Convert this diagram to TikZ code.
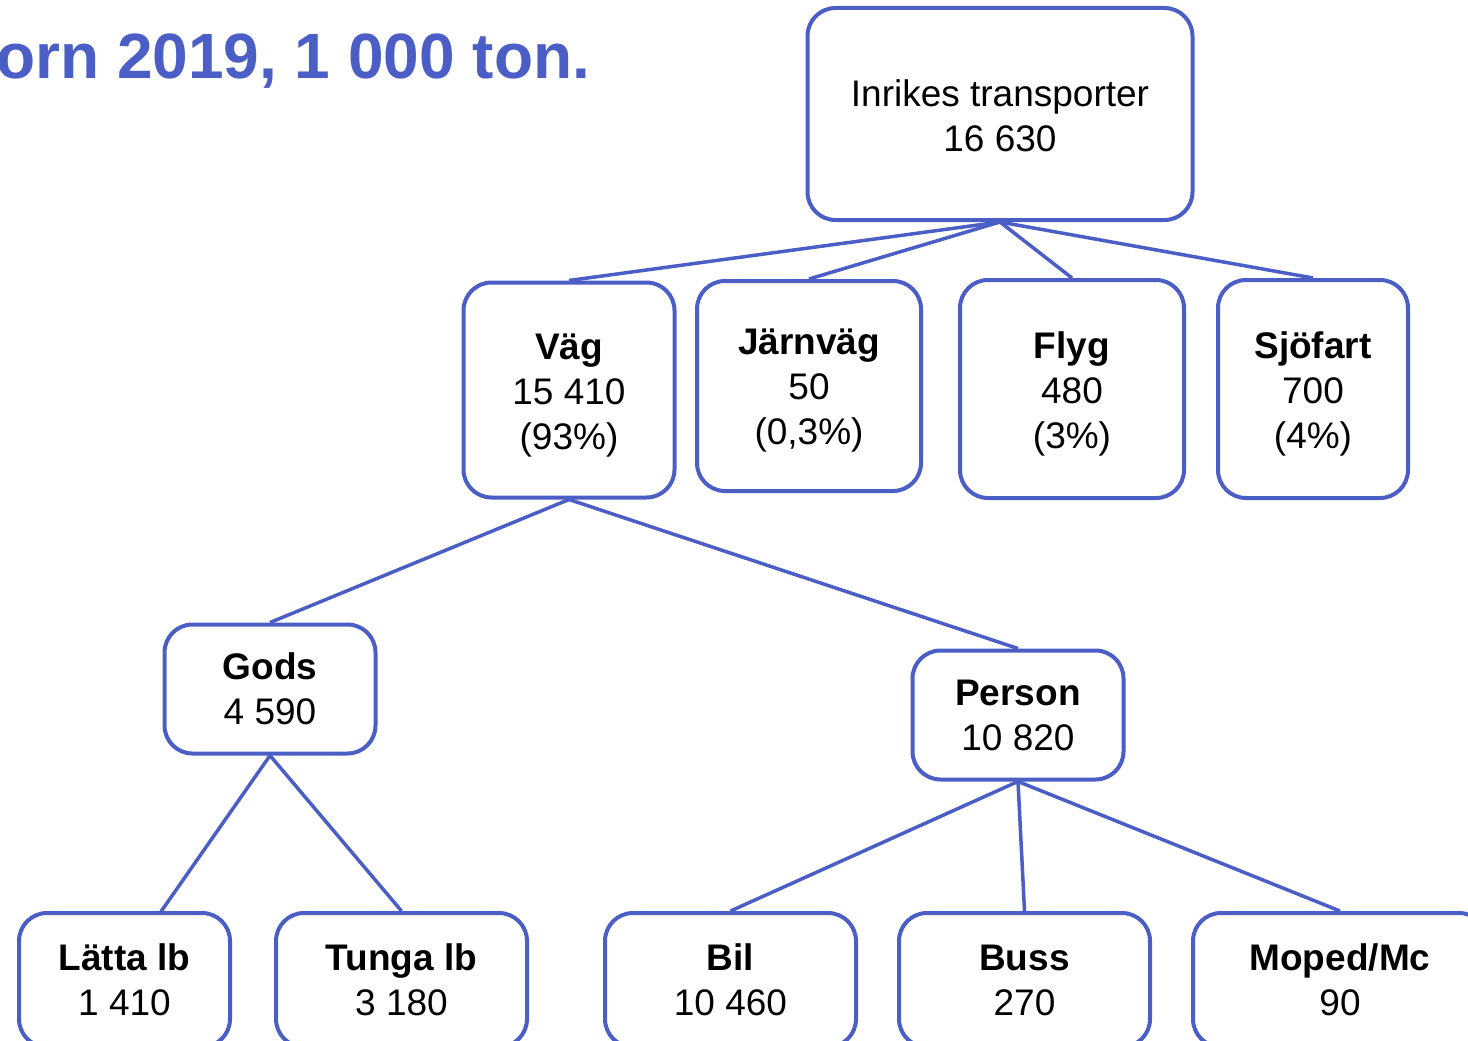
\documentclass[tikz,border=0pt]{standalone}
\usepackage{fontspec}
\setmainfont{Liberation Sans}
\definecolor{myblue}{HTML}{4A5EC6}
\begin{document}
\begin{tikzpicture}[x=1pt,y=-1pt,
  box/.style={draw=myblue, line width=4pt, rounded corners=28pt, fill=white, align=center,
    font=\fontsize{37}{45}\selectfont, inner sep=0pt, text=black},
  txt/.style={align=center, font=\fontsize{37}{45}\selectfont, inner sep=0pt, text=black},
  edge/.style={draw=myblue, line width=3.5pt}]
\useasboundingbox (0,0) rectangle (1468,1041);
\clip (0,0) rectangle (1468,1041);
\fill[white] (0,0) rectangle (1468,1041);
\node[anchor=base west, text=myblue, font=\fontsize{64}{72}\selectfont\bfseries, inner sep=0pt] (title) at (-4,79) {orn 2019, 1 000 ton.};
% nodes
\node[box, minimum width=385pt, minimum height=212pt] (inr) at (1000,114) {};
\node[txt] (inrt) at ([yshift=-2pt]inr.center) {Inrikes transporter\\16 630};
\node[box, minimum width=211pt, minimum height=215pt] (vag) at (569,390) {};
\node[txt] (vagt) at ([yshift=-6pt]vag.center) {\textbf{Väg}\\15 410\\(93\%)};
\node[box, minimum width=224pt, minimum height=210pt] (jarn) at (809,386) {};
\node[txt] (jarnt) at ([yshift=-5pt]jarn.center) {\textbf{Järnväg}\\50\\(0,3\%)};
\node[box, minimum width=224pt, minimum height=218pt] (flyg) at (1072,389) {};
\node[txt] (flygt) at ([yshift=-5pt]flyg.center) {\textbf{Flyg}\\480\\(3\%)};
\node[box, minimum width=190pt, minimum height=218pt] (sjo) at (1313,389) {};
\node[txt] (sjot) at ([yshift=-5pt]sjo.center) {\textbf{Sjöfart}\\700\\(4\%)};
\node[box, minimum width=211pt, minimum height=129pt] (gods) at (270,689) {\textbf{Gods}\\4 590};
\node[box, minimum width=211pt, minimum height=129pt] (pers) at (1018,715) {\textbf{Person}\\10 820};
\node[box, minimum width=211pt, minimum height=134pt] (latt) at (124.5,980) {\textbf{Lätta lb}\\1 410};
\node[box, minimum width=251pt, minimum height=134pt] (tung) at (401.5,980) {\textbf{Tunga lb}\\3 180};
\node[box, minimum width=251pt, minimum height=134pt] (bil) at (730.5,980) {\textbf{Bil}\\10 460};
\node[box, minimum width=251pt, minimum height=134pt] (buss) at (1024.5,980) {\textbf{Buss}\\270};
\node[box, minimum width=294pt, minimum height=134pt] (mop) at (1340,980) {\textbf{Moped/Mc}\\90};
\coordinate (lattin) at (160,913);
% edges
\draw[edge] (inr.south) -- (vag.north);
\draw[edge] (inr.south) -- (jarn.north);
\draw[edge] (inr.south) -- (flyg.north);
\draw[edge] (inr.south) -- (sjo.north);
\draw[edge] (vag.south) -- (gods.north);
\draw[edge] (vag.south) -- (pers.north);
\draw[edge] (gods.south) -- (lattin);
\draw[edge] (gods.south) -- (tung.north);
\draw[edge] (pers.south) -- (bil.north);
\draw[edge] (pers.south) -- (buss.north);
\draw[edge] (pers.south) -- (mop.north);
\end{tikzpicture}
\end{document}
